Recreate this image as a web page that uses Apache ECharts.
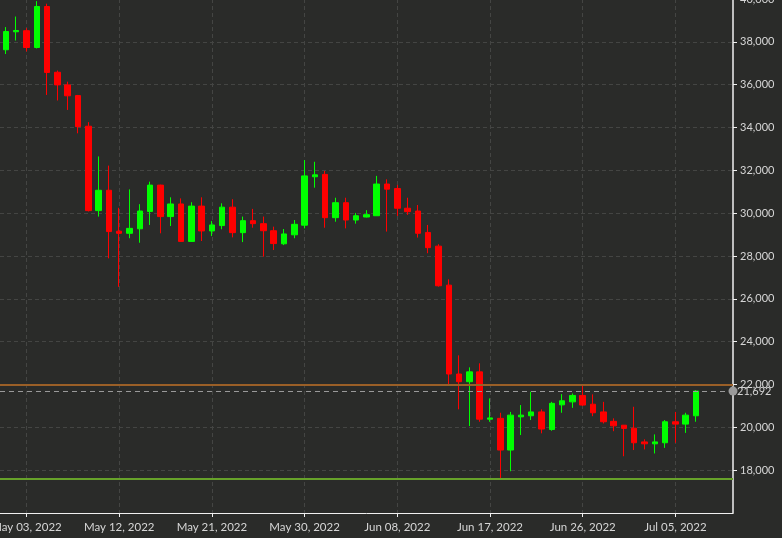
<!DOCTYPE html>
<html>
<head>
<meta charset="utf-8">
<script src="https://cdn.jsdelivr.net/npm/echarts@6/dist/echarts.min.js"></script>
<style>
html,body{margin:0;padding:0;background:#2a2b29;}
#chart{width:782px;height:538px;}
</style>
</head>
<body>
<div id="chart"></div>
<script>
// ---- data ----
var dates = ['2022-05-01','2022-05-02','2022-05-03','2022-05-04','2022-05-05','2022-05-06','2022-05-07','2022-05-08','2022-05-09','2022-05-10',
 '2022-05-11','2022-05-12','2022-05-13','2022-05-14','2022-05-15','2022-05-16','2022-05-17','2022-05-18','2022-05-19','2022-05-20',
 '2022-05-21','2022-05-22','2022-05-23','2022-05-24','2022-05-25','2022-05-26','2022-05-27','2022-05-28','2022-05-29','2022-05-30',
 '2022-05-31','2022-06-01','2022-06-02','2022-06-03','2022-06-04','2022-06-05','2022-06-06','2022-06-07','2022-06-08','2022-06-09',
 '2022-06-10','2022-06-11','2022-06-12','2022-06-13','2022-06-14','2022-06-15','2022-06-16','2022-06-17','2022-06-18','2022-06-19',
 '2022-06-20','2022-06-21','2022-06-22','2022-06-23','2022-06-24','2022-06-25','2022-06-26','2022-06-27','2022-06-28','2022-06-29',
 '2022-06-30','2022-07-01','2022-07-02','2022-07-03','2022-07-04','2022-07-05','2022-07-06','2022-07-07'];
var open = [37630,38470,38520,37735,39650,36580,35990,35490,34060,30120,
 31070,29160,29060,29270,30080,31310,29840,30430,28680,30330,
 29170,29420,30280,29090,29650,29510,29180,28570,28990,29440,
 31700,31810,29790,30490,29680,29820,29880,31360,31150,30230,
 30100,29100,28460,26640,22490,22130,22590,20380,20420,18940,
 20490,20540,20720,19900,21050,21190,21490,21080,20720,20280,
 20100,19960,19320,19230,19280,20260,20150,20540];
var close = [38480,38530,37735,39650,36570,35990,35480,34040,30120,31070,
 29140,29060,29290,30100,31310,29840,30430,28680,30330,29170,
 29450,30280,29090,29650,29510,29180,28580,29030,29480,31740,
 31790,29790,30490,29680,29880,29930,31360,31120,30230,30070,
 29060,28390,26610,22490,22130,22590,20380,20440,18940,20570,
 20570,20720,19920,21120,21240,21490,21040,20680,20260,20070,
 19950,19280,19230,19320,20260,20150,20570,21692];
var low = [37430,38060,37550,37690,35520,35260,34820,33730,30080,29840,
 27890,26560,28830,28620,29450,29060,29400,28660,28660,28700,
 28930,29250,28870,28650,29320,27970,28280,28510,28830,29290,
 31190,29320,29600,29290,29510,29800,29870,29140,29870,29920,
 28860,28130,26570,21970,20840,20060,20260,20260,17622,17950,
 19640,20340,19720,19840,20680,20910,21000,20520,20180,19820,
 18650,18940,18970,18780,19040,19280,19740,20260];
var high = [38690,39180,38640,39900,39780,36660,36140,35520,34250,32650,
 32220,30250,31110,30420,31470,31330,30740,30690,30510,30740,
 29630,30460,30650,29840,30200,29840,29370,29260,29680,32480,
 32400,31970,30720,30720,30010,30140,31740,31580,31320,30720,
 30380,29450,28550,26910,23360,22800,22990,21350,20680,20720,
 21040,21660,20840,21190,21550,21580,22000,21540,21190,20420,
 20100,20960,19440,19670,20340,20720,20680,21740];
var tickDates = ['2022-05-03','2022-05-12','2022-05-21','2022-05-30','2022-06-08','2022-06-17','2022-06-26','2022-07-05'];
var resistance = 22000;
var support = 17622;
var lastPrice = 21692;

// ---- helpers ----
var DAY = 86400000;
var BASE = Date.parse('2022-05-03T00:00:00Z');
function dayIndex(s){ return Math.round((Date.parse(s + 'T00:00:00Z') - BASE) / DAY); }
var MONTHS = ['Jan','Feb','Mar','Apr','May','Jun','Jul','Aug','Sep','Oct','Nov','Dec'];
function fmtDate(v){
  var d = new Date(BASE + Math.round(v) * DAY);
  var dd = d.getUTCDate();
  return MONTHS[d.getUTCMonth()] + ' ' + (dd < 10 ? '0' + dd : dd) + ', ' + d.getUTCFullYear();
}
function addCommas(n){ return String(n).replace(/\B(?=(\d{3})+(?!\d))/g, ','); }

var candleData = dates.map(function(s, i){ return [dayIndex(s), open[i], close[i], low[i], high[i]]; });
var tickValues = tickDates.map(dayIndex);

var FONT = 'Lato';
var LABEL = '#d6d6d6';

var chart = echarts.init(document.getElementById('chart'), null, {renderer: 'canvas'});
chart.setOption({
  backgroundColor: '#2a2b29',
  animation: false,
  grid: {left: 0, right: 49, top: -1, bottom: 25, containLabel: false, outerBoundsMode: 'none'},
  xAxis: {
    type: 'value',
    min: -2.573,
    max: 68.59,
    axisLine: {show: true, onZero: false, lineStyle: {color: '#f0f0f0', width: 1}},
    axisTick: {show: true, length: 4, customValues: tickValues, lineStyle: {color: '#f0f0f0'}},
    axisLabel: {show: true, customValues: tickValues, formatter: fmtDate, color: LABEL, fontFamily: FONT, fontSize: 11.5, margin: 8, hideOverlap: false},
    splitLine: {show: true, lineStyle: {color: '#444543', type: [4, 3], width: 1}}
  },
  yAxis: {
    type: 'value',
    position: 'right',
    min: 16000,
    max: 40000,
    interval: 2000,
    axisLine: {show: true, onZero: false, lineStyle: {color: '#f0f0f0', width: 1.5}},
    axisTick: {show: true, length: 4, lineStyle: {color: '#f0f0f0'}},
    axisLabel: {show: true, color: LABEL, fontFamily: FONT, fontSize: 11, margin: 7, showMinLabel: false, hideOverlap: false,
      formatter: function(v){ return addCommas(v); }},
    splitLine: {show: true, lineStyle: {color: '#444543', type: [4, 3], width: 1}}
  },
  series: [
    {
      type: 'candlestick',
      data: candleData,
      barWidth: 6,
      itemStyle: {color: '#00ff00', color0: '#ff0000', borderColor: '#00ff00', borderColor0: '#ff0000', borderWidth: 1}
    },
    {
      type: 'line', data: [], z: 5,
      markLine: {silent: true, animation: false, symbol: 'none', label: {show: false},
        lineStyle: {color: '#9a5f27', width: 2, type: 'solid'},
        data: [{yAxis: resistance}]}
    },
    {
      type: 'line', data: [], z: 5,
      markLine: {silent: true, animation: false, symbol: 'none', label: {show: false},
        lineStyle: {color: '#67a22a', width: 2, type: 'solid'},
        data: [{yAxis: support}]}
    },
    {
      type: 'line', data: [], z: 6,
      markLine: {silent: true, animation: false, symbol: ['none', 'circle'], symbolSize: 9,
        label: {show: true, position: 'end', distance: 4, formatter: addCommas(lastPrice), color: LABEL, fontFamily: FONT, fontSize: 11},
        lineStyle: {color: '#9a9a9a', width: 1, type: [5, 4]},
        data: [{yAxis: lastPrice}]}
    }
  ]
});
</script>
</body>
</html>
